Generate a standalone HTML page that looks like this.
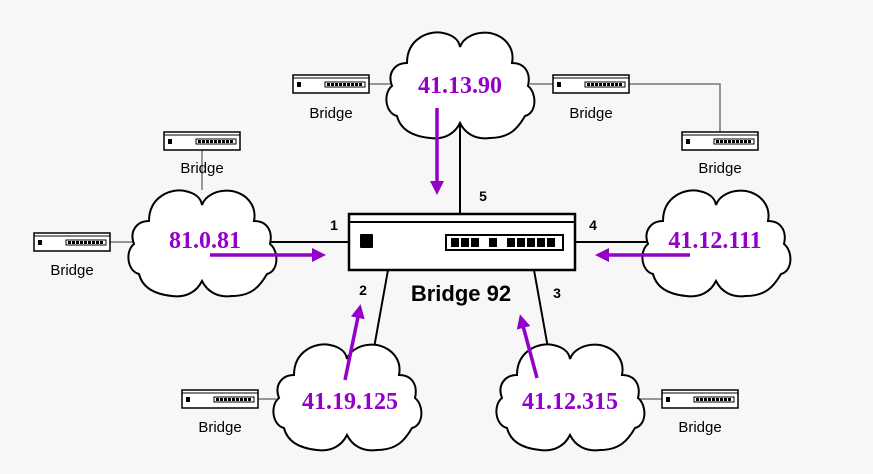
<!DOCTYPE html>
<html><head><style>
html,body{margin:0;padding:0;background:#f7f7f7;}
svg{display:block;}
.p{font-family:"Liberation Serif",serif;font-weight:bold;font-size:24px;fill:#9400c8;text-anchor:middle;}
.b{font-family:"Liberation Sans",sans-serif;font-size:15px;fill:#000;text-anchor:middle;}
.n{font-family:"Liberation Sans",sans-serif;font-weight:bold;font-size:14px;fill:#000;text-anchor:middle;}
</style></head><body>
<svg width="873" height="474" viewBox="0 0 873 474" xmlns="http://www.w3.org/2000/svg">
<defs>
<path id="cl" d="M22 35 C22 10,45 2,58 5 C68 7,74 12,75 19 C78 10,90 3,105 5 C120 8,130 20,127 35 C140 35,146 45,143 58 C152 65,152 85,140 88 C133 100,125 110,105 110 C90 112,80 105,75 95 C70 105,60 112,45 110 C25 108,15 100,12 88 C0 85,-2 65,7 58 C2 45,10 35,22 35 Z" fill="#fff" stroke="#000" stroke-width="2"/>
<g id="sb">
<rect x="0" y="0" width="76" height="18" fill="#fff" stroke="#000" stroke-width="1.5"/>
<line x1="0" y1="3" x2="76" y2="3" stroke="#000" stroke-width="1"/>
<rect x="4" y="7" width="4" height="5" fill="#000"/>
<rect x="32" y="7" width="40" height="5" fill="#fff" stroke="#000" stroke-width="1"/>
<line x1="34" y1="9.5" x2="70" y2="9.5" stroke="#000" stroke-width="3" stroke-dasharray="3,1"/>
</g>
<marker id="ah" markerWidth="16" markerHeight="16" refX="6" refY="7" orient="auto" markerUnits="userSpaceOnUse"><path d="M0 0 L14 7 L0 14 Z" fill="#9400c8"/></marker>
</defs>
<g stroke="#000" stroke-width="2" fill="none">
<line x1="460" y1="125" x2="460" y2="214"/>
<line x1="270" y1="242" x2="349" y2="242"/>
<line x1="575" y1="242" x2="650" y2="242"/>
<line x1="388" y1="270" x2="374" y2="348"/>
<line x1="534" y1="270" x2="548" y2="348"/>
</g>
<g stroke="#777" stroke-width="1.5" fill="none">
<line x1="369" y1="84" x2="390" y2="84"/>
<line x1="530" y1="84" x2="553" y2="84"/>
<polyline points="629,84 720,84 720,132"/>
<line x1="202" y1="150" x2="202" y2="190"/>
<line x1="110" y1="242" x2="135" y2="242"/>
<line x1="258" y1="399" x2="276" y2="399"/>
<line x1="640" y1="399" x2="662" y2="399"/>
</g>
<use href="#cl" transform="translate(385,28)"/>
<use href="#cl" transform="translate(127,186)"/>
<use href="#cl" transform="translate(641,186)"/>
<use href="#cl" transform="translate(272,340)"/>
<use href="#cl" transform="translate(495,340)"/>
<use href="#sb" transform="translate(293,75)"/>
<use href="#sb" transform="translate(553,75)"/>
<use href="#sb" transform="translate(682,132)"/>
<use href="#sb" transform="translate(164,132)"/>
<use href="#sb" transform="translate(34,233)"/>
<use href="#sb" transform="translate(182,390)"/>
<use href="#sb" transform="translate(662,390)"/>
<text class="b" x="331" y="118">Bridge</text>
<text class="b" x="591" y="118">Bridge</text>
<text class="b" x="720" y="173">Bridge</text>
<text class="b" x="202" y="173">Bridge</text>
<text class="b" x="72" y="275">Bridge</text>
<text class="b" x="220" y="432">Bridge</text>
<text class="b" x="700" y="432">Bridge</text>
<rect x="349" y="214" width="226" height="56" fill="#fff" stroke="#000" stroke-width="2.5"/>
<line x1="349" y1="222" x2="575" y2="222" stroke="#000" stroke-width="2"/>
<rect x="360" y="234" width="13" height="14" rx="1" fill="#000"/>
<rect x="446" y="235" width="117" height="15" fill="#fff" stroke="#000" stroke-width="2"/>
<g fill="#000">
<rect x="451" y="238" width="8" height="9"/><rect x="461" y="238" width="8" height="9"/><rect x="471" y="238" width="8" height="9"/>
<rect x="489" y="238" width="8" height="9"/>
<rect x="507" y="238" width="8" height="9"/><rect x="517" y="238" width="8" height="9"/><rect x="527" y="238" width="8" height="9"/><rect x="537" y="238" width="8" height="9"/><rect x="547" y="238" width="8" height="9"/>
</g>
<text x="461" y="301" font-family="Liberation Sans, sans-serif" font-weight="bold" font-size="22" text-anchor="middle">Bridge 92</text>
<text class="n" x="334" y="230">1</text>
<text class="n" x="483" y="201">5</text>
<text class="n" x="593" y="230">4</text>
<text class="n" x="363" y="295">2</text>
<text class="n" x="557" y="298">3</text>
<text class="p" x="460" y="93">41.13.90</text>
<text class="p" x="205" y="248">81.0.81</text>
<text class="p" x="715" y="248">41.12.111</text>
<text class="p" x="350" y="409">41.19.125</text>
<text class="p" x="570" y="409">41.12.315</text>
<g stroke="#9400c8" stroke-width="3.5" fill="none">
<line x1="437" y1="108" x2="437" y2="187" marker-end="url(#ah)"/>
<line x1="210" y1="255" x2="318" y2="255" marker-end="url(#ah)"/>
<line x1="690" y1="255" x2="603" y2="255" marker-end="url(#ah)"/>
<line x1="345" y1="380" x2="359" y2="312" marker-end="url(#ah)"/>
<line x1="537" y1="378" x2="522" y2="322" marker-end="url(#ah)"/>
</g>
</svg>
</body></html>
